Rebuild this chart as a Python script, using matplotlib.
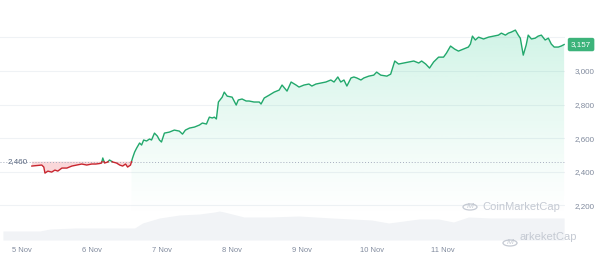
import numpy as np
import matplotlib
matplotlib.use("Agg")
import matplotlib.pyplot as plt
from matplotlib.patches import Polygon, Circle
from matplotlib.transforms import blended_transform_factory

plt.rcParams["font.family"] = ["Liberation Sans", "DejaVu Sans"]

GREEN, RED = "#22a86c", "#c8262f"
GRID, LABEL = "#eff2f5", "#808a9d"

# hours since 5 Nov 00:00 and ETH price (USD)
hours = [3.4, 5.1, 6.8, 7.5, 7.9, 8.9, 10.2, 11.3, 12.3, 13.7,
         15.4, 17.1, 18.8, 20.5, 22.2, 23.9, 25.3, 26.6, 27.3, 27.7,
         28.3, 29.4, 30.0, 31.1, 32.4, 33.5, 34.5, 35.5, 36.2, 37.2,
         37.9, 38.6, 39.3, 40.3, 41.0, 41.7, 42.7, 43.7, 44.4, 45.4,
         46.4, 47.1, 47.8, 48.8, 50.5, 52.2, 53.9, 55.0, 56.0, 57.4,
         59.1, 60.8, 61.8, 63.2, 64.2, 65.2, 65.9, 66.6, 67.3, 68.6,
         69.3, 70.3, 72.0, 73.4, 74.1, 75.4, 76.8, 77.8, 79.5, 81.3,
         81.9, 83.0, 84.7, 86.4, 88.1, 89.1, 90.8, 92.2, 93.9, 94.9,
         96.6, 98.3, 99.3, 100.7, 102.4, 104.1, 105.8, 106.9, 108.2, 109.2,
         110.3, 111.3, 112.7, 113.7, 114.7, 116.1, 117.1, 118.8, 120.5, 121.5,
         122.9, 125.0, 126.3, 127.7, 129.0, 130.8, 132.5, 134.2, 135.9, 136.9,
         138.3, 139.6, 141.0, 142.7, 144.4, 145.4, 146.8, 148.2, 149.5, 151.2,
         152.9, 153.6, 154.3, 155.3, 156.4, 158.1, 159.8, 161.5, 163.2, 164.2,
         165.6, 166.6, 167.6, 169.0, 170.0, 170.7, 171.7, 172.7, 173.4, 174.5,
         175.8, 176.8, 177.9, 179.2, 180.3, 181.3, 182.3, 183.7, 184.7, 185.7]
prices = [2434, 2437, 2440, 2428, 2392, 2404, 2398, 2410, 2404, 2422,
          2422, 2434, 2440, 2446, 2440, 2446, 2446, 2449, 2452, 2482,
          2452, 2458, 2470, 2458, 2452, 2440, 2434, 2446, 2428, 2440,
          2482, 2517, 2541, 2571, 2559, 2589, 2583, 2595, 2589, 2630,
          2612, 2589, 2577, 2630, 2636, 2648, 2642, 2624, 2648, 2660,
          2666, 2678, 2690, 2684, 2725, 2720, 2725, 2714, 2815, 2844,
          2874, 2850, 2844, 2797, 2827, 2833, 2821, 2821, 2815, 2815,
          2803, 2839, 2856, 2874, 2886, 2916, 2880, 2934, 2916, 2904,
          2916, 2922, 2910, 2922, 2928, 2934, 2946, 2934, 2964, 2934,
          2946, 2910, 2958, 2964, 2958, 2946, 2958, 2969, 2975, 2993,
          2975, 2969, 2981, 3059, 3041, 3047, 3053, 3059, 3047, 3059,
          3041, 3017, 3053, 3082, 3082, 3106, 3148, 3130, 3118, 3130,
          3142, 3160, 3207, 3184, 3201, 3190, 3201, 3207, 3213, 3225,
          3213, 3225, 3231, 3243, 3213, 3195, 3094, 3154, 3213, 3190,
          3195, 3207, 3213, 3184, 3195, 3160, 3142, 3142, 3148, 3157]

baseline = 2460
last_price = 3157

# 24h volume (USD bn), rough shape of the grey area
vol_hours = [-6.5, 6.1, 9.6, 18.1, 26.6, 35.2, 38.6, 41.3, 47.1, 53.9, 60.8, 65.9, 67.6, 69.3,
             76.1, 84.7, 94.9, 106.2, 119.8, 125.6, 135.9, 142.7, 147.8, 152.9, 160.8, 170.0, 185.7]
volume = [9, 9, 11, 12, 12, 12, 12, 17, 22, 25, 26, 28, 29, 28,
          23, 23, 24, 22, 20, 17, 21, 21, 18, 23, 22, 22, 22]

day_ticks = [0, 24, 48, 72, 96, 120, 144]
day_labels = ["5 Nov", "6 Nov", "7 Nov", "8 Nov", "9 Nov", "10 Nov", "11 Nov"]
price_ticks = [2200, 2400, 2600, 2800, 3000, 3200]
price_labels = ["2,200", "2,400", "2,600", "2,800", "3,000", ""]


def split_at(xs, ys, base):
    X, Y = [xs[0]], [ys[0]]
    for i in range(1, len(xs)):
        y0, y1 = ys[i - 1], ys[i]
        if (y0 - base) * (y1 - base) < 0:
            t = (base - y0) / (y1 - y0)
            X.append(xs[i - 1] + t * (xs[i] - xs[i - 1])); Y.append(base)
        X.append(xs[i]); Y.append(ys[i])
    return np.array(X, float), np.array(Y, float)


X, Y = split_at(hours, prices, baseline)
XL, YB, YT = (-7.5, 186), 1994, 3422

fig = plt.figure(figsize=(6, 2.57), dpi=100)
ax = fig.add_axes([0, 17 / 257, 565 / 600, 240 / 257])
ax2 = ax.twinx()
ax2.fill_between(vol_hours, volume, 0, color="#f1f3f6", lw=0)
ax2.set_ylim(0, 240); ax2.set_yticks([])
for s in ax2.spines.values():
    s.set_visible(False)
ax.set_zorder(ax2.get_zorder() + 1); ax.patch.set_visible(False)

# green gradient under the line after the last crossing
idx = np.where(Y < baseline)[0].max() + 1
verts = list(zip(X[idx:], Y[idx:])) + [(X[-1], YB), (X[idx], YB)]
poly = Polygon(verts, closed=True, fc="none", ec="none", transform=ax.transData)
ax.add_patch(poly)
pg = np.linspace(YB, YT, 256)
img = np.zeros((256, 1, 4))
img[..., :3] = matplotlib.colors.to_rgb("#16c784")
img[:, 0, 3] = np.clip((pg - 2120) / (3250 - 2120), 0, 1) ** 1.2 * 0.2
im = ax.imshow(img, extent=[XL[0], XL[1], YB, YT], origin="lower", aspect="auto", zorder=1)
im.set_clip_path(poly)

ax.fill_between(X, Y, baseline, where=Y <= baseline, color="#ea3943", alpha=0.2, lw=0,
                interpolate=True, zorder=1)
ax.axhline(baseline, color="#a6adbf", lw=0.7, ls=(0, (1, 2)), zorder=2)
ax.plot(X, np.ma.masked_where(Y < baseline, Y), color=GREEN, lw=1.0, zorder=3)
ax.plot(X, np.ma.masked_where(Y > baseline, Y), color=RED, lw=1.0, zorder=3)

ax.set_xlim(*XL); ax.set_ylim(YB, YT)
ax.set_yticks(price_ticks); ax.set_yticklabels(price_labels)
ax.yaxis.tick_right()
ax.tick_params(axis="y", length=0, pad=7, labelsize=5.8, labelcolor=LABEL)
ax.set_xticks(day_ticks); ax.set_xticklabels(day_labels)
ax.tick_params(axis="x", length=0, pad=5, labelsize=5.4, labelcolor=LABEL)
ax.grid(axis="y", color=GRID, lw=0.8); ax.grid(axis="x", visible=False)
ax.set_axisbelow(True)
for s in ax.spines.values():
    s.set_visible(False)

ax.text(-4.8, baseline, "2,460", ha="left", va="center", fontsize=5.8, color="#58667e", zorder=4)
tr = blended_transform_factory(ax.transAxes, ax.transData)
ax.text(1 + 6 / 565, last_price, f"{last_price:,}", transform=tr, ha="left", va="center",
        color="white", fontsize=5.8, clip_on=False,
        bbox=dict(boxstyle="round,pad=0.4,rounding_size=0.25", fc="#3cb37a", ec="none"))

# watermarks
W, H = 600, 257
for cx, cy in ((470, 207), (510, 243)):
    fig.patches.append(Circle((cx / W, 1 - cy / H), 7 / W, transform=fig.transFigure,
                              fill=False, ec="#c5cad3", lw=0.9))
    fig.text(cx / W, 1 - cy / H, "M", ha="center", va="center", fontsize=6,
             color="#c5cad3", style="italic")
fig.text(482 / W, 1 - 207 / H, "CoinMarketCap", ha="left", va="center", fontsize=8, color="#c5cad3")
fig.text(519 / W, 1 - 237 / H, "arkeketCap", ha="left", va="center", fontsize=8, color="#c5cad3")

fig.savefig("out.png", dpi=100)
